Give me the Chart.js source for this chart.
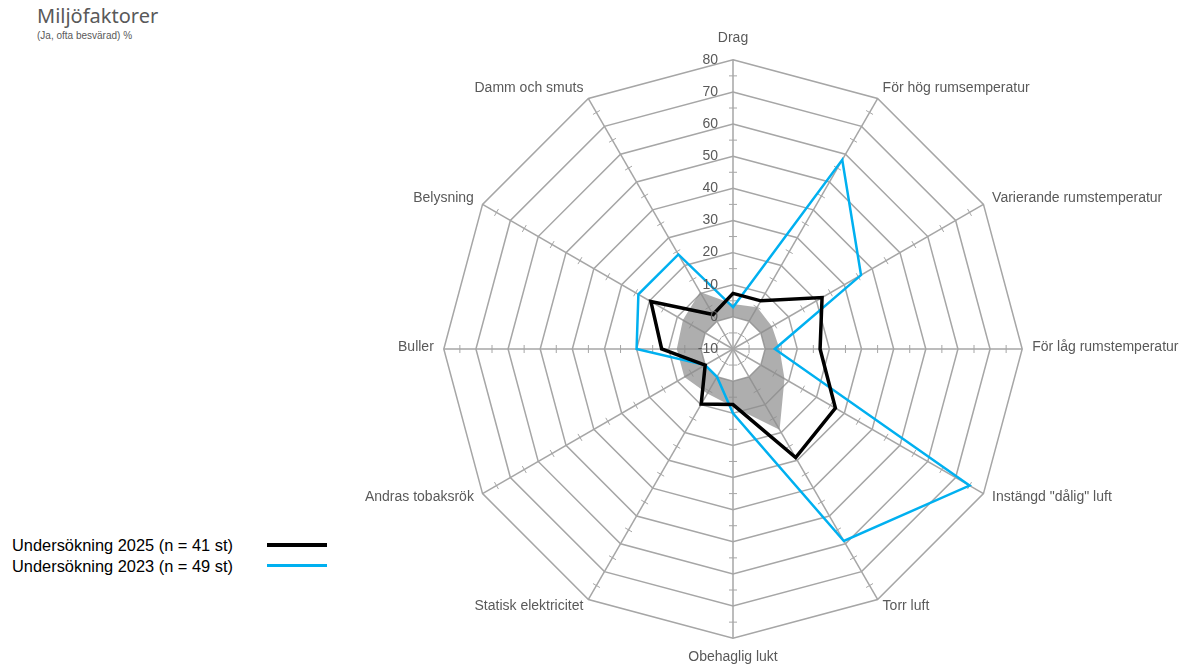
<!DOCTYPE html>
<html lang="sv">
<head>
<meta charset="utf-8">
<title>Miljöfaktorer</title>
<script src="https://cdn.jsdelivr.net/npm/chart.js@4.4.1/dist/chart.umd.min.js"></script>
<style>
  html, body { margin: 0; padding: 0; background: #fff; overflow: hidden; }
  body { width: 1180px; height: 667px; position: relative; font-family: "Liberation Sans", Arial, sans-serif; }
  #title { position: absolute; left: 37px; top: 2px; font: 20px "Noto Sans", sans-serif; color: #595959; }
  #subtitle { position: absolute; left: 37px; top: 30px; font-size: 10px; color: #595959; }
  .legend-text { position: absolute; left: 12px; font-size: 16.4px; color: #000; line-height: 18px; }
  .legend-line { position: absolute; left: 267px; width: 60px; }
  #wrap { position: absolute; left: 233px; top: 0; width: 1000px; height: 667px; }
</style>
</head>
<body>
<div id="title">Miljöfaktorer</div>
<div id="subtitle">(Ja, ofta besvärad) %</div>

<div class="legend-text" style="top:536px">Undersökning 2025 (n = 41 st)</div>
<div class="legend-line" style="top:543px;height:4px;background:#000"></div>
<div class="legend-text" style="top:557px">Undersökning 2023 (n = 49 st)</div>
<div class="legend-line" style="top:564px;height:3px;background:#00b0f0"></div>

<div id="wrap"><canvas id="chart"></canvas></div>

<script>
// Axes, clockwise from the top
const categories = [
  'Drag',
  'För hög rumsemperatur',
  'Varierande rumstemperatur',
  'För låg rumstemperatur',
  'Instängd "dålig" luft',
  'Torr luft',
  'Obehaglig lukt',
  'Statisk elektricitet',
  'Andras tobaksrök',
  'Buller',
  'Belysning',
  'Damm och smuts'
];

// Percent "Ja, ofta besvärad"
const survey2025 = [7.3, 7.3, 22.0, 17.1, 26.8, 29.0, 7.3, 9.8, 0, 12.2, 19.5, 2.4];
const survey2023 = [3, 58, 36, 3, 75, 59, 10, 0, 0, 20, 24, 24];

// Grey band (outer and inner edge)
const bandOuter = [4, 5, 4, 4.5, 8.5, 19, 8, 6, 7.5, 7.5, 8, 10.5];
const bandInner = [0, 0, 0, 0, 0, 0, 0, 0, 0, 0, 0, 0];

const tickValues = [80, 70, 60, 50, 40, 30, 20, 10, 0, -10];
const minorTicks = [-5, 5, 15, 25, 35, 45, 55, 65, 75];

const gridColor = '#a6a6a6';
const textColor = '#595959';
const labelFont = '14px "Liberation Sans", Arial, sans-serif';

// small cross marks on every spoke, at the half steps
const minorTickPlugin = {
  id: 'minorTicks',
  beforeDatasetsDraw(chart) {
    const scale = chart.scales.r;
    const ctx = chart.ctx;
    ctx.save();
    ctx.strokeStyle = gridColor;
    ctx.lineWidth = 1;
    for (let i = 0; i < categories.length; i++) {
      const a = scale.getIndexAngle(i) - Math.PI / 2;
      const px = -Math.sin(a), py = Math.cos(a);
      minorTicks.forEach(v => {
        const p = scale.getPointPositionForValue(i, v);
        ctx.beginPath();
        ctx.moveTo(p.x - px * 4, p.y - py * 4);
        ctx.lineTo(p.x + px * 4, p.y + py * 4);
        ctx.stroke();
      });
    }
    ctx.restore();
  }
};

// value labels left of the top spoke + category labels (Excel-like placement)
const labelPlugin = {
  id: 'labels',
  afterDatasetsDraw(chart) {
    const scale = chart.scales.r;
    const ctx = chart.ctx;
    ctx.save();
    ctx.font = labelFont;
    ctx.fillStyle = textColor;
    ctx.textBaseline = 'middle';

    ctx.textAlign = 'right';
    tickValues.forEach(v => {
      const p = scale.getPointPositionForValue(0, v);
      ctx.fillText(String(v), p.x - 15, p.y);
    });

    for (let i = 0; i < categories.length; i++) {
      const a = scale.getIndexAngle(i) - Math.PI / 2;
      const dx = Math.cos(a), dy = Math.sin(a);
      const p = scale.getPointPosition(i, scale.drawingArea + 10);
      let y = p.y - 1.5;
      if (Math.abs(dx) < 0.01) {
        ctx.textAlign = 'center';
        y += dy * 10;
      } else {
        ctx.textAlign = dx > 0 ? 'left' : 'right';
      }
      ctx.fillText(categories[i], p.x, y);
    }
    ctx.restore();
  }
};

const ctx = document.getElementById('chart').getContext('2d');
new Chart(ctx, {
  type: 'radar',
  data: {
    labels: categories,
    datasets: [
      {
        label: 'Undersökning 2025 (n = 41 st)',
        data: survey2025,
        borderColor: '#000000',
        borderWidth: 3.5,
        borderJoinStyle: 'miter',
        fill: false,
        pointRadius: 0,
        order: 0
      },
      {
        label: 'Undersökning 2023 (n = 49 st)',
        data: survey2023,
        borderColor: '#00b0f0',
        borderWidth: 2.5,
        borderJoinStyle: 'miter',
        fill: false,
        pointRadius: 0,
        order: 1
      },
      {
        label: 'band',
        data: bandOuter,
        borderWidth: 0,
        borderColor: 'rgba(0,0,0,0)',
        backgroundColor: 'rgba(140,140,140,0.7)',
        fill: { target: 3 },
        pointRadius: 0,
        order: 2
      },
      {
        label: 'band-inner',
        data: bandInner,
        borderWidth: 0,
        borderColor: 'rgba(0,0,0,0)',
        fill: false,
        pointRadius: 0,
        order: 3
      }
    ]
  },
  options: {
    responsive: true,
    maintainAspectRatio: false,
    animation: false,
    layout: { padding: { top: 31, bottom: 0, left: 0, right: 0 } },
    plugins: {
      legend: { display: false },
      tooltip: { enabled: false },
      filler: { propagate: false }
    },
    scales: {
      r: {
        min: -10,
        max: 80,
        ticks: { display: false, stepSize: 10 },
        grid: { color: gridColor, lineWidth: 1.5 },
        angleLines: { color: gridColor, lineWidth: 1.5 },
        // kept for the layout fit only, drawn by labelPlugin
        pointLabels: {
          color: 'rgba(0,0,0,0)',
          padding: 12,
          font: { family: '"Liberation Sans", Arial, sans-serif', size: 14 }
        }
      }
    }
  },
  plugins: [minorTickPlugin, labelPlugin]
});
</script>
</body>
</html>
